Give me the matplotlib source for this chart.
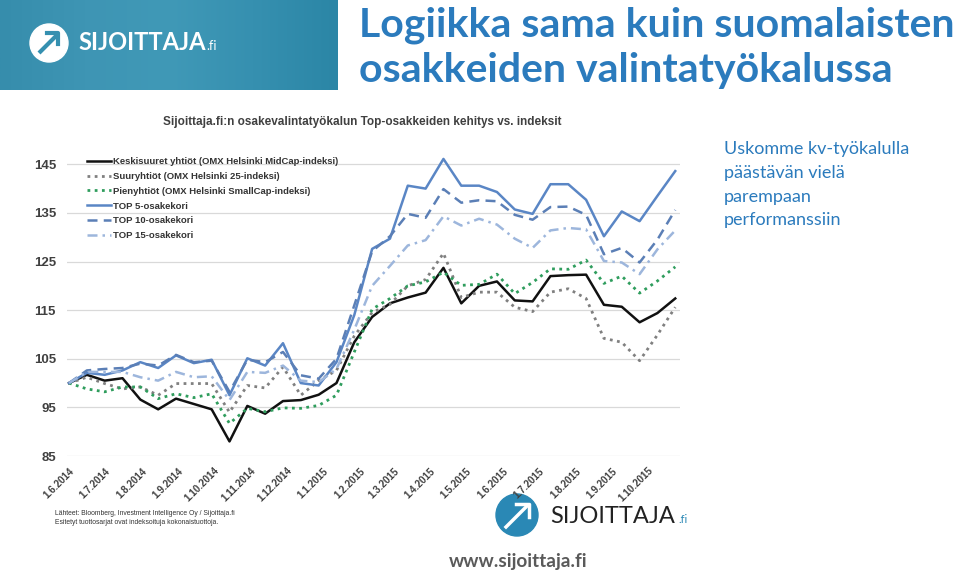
import numpy as np
import pandas as pd
import matplotlib.pyplot as plt
from matplotlib.patches import Circle
from matplotlib.colors import LinearSegmentedColormap

# biweekly observations, indexed to 100 on 1.6.2014
dates = pd.date_range('2014-06-01', periods=35, freq='15D')

midcap = [100.0, 101.7, 100.5, 101.0, 96.6, 94.6, 96.8, 95.7, 94.6, 88.0,
          95.3, 93.7, 96.3, 96.5, 97.6, 100.0, 108.4, 113.6, 116.4, 117.6,
          118.6, 123.7, 116.4, 120.0, 120.9, 117.0, 116.8, 122.0, 122.2, 122.3,
          116.1, 115.7, 112.5, 114.4, 117.4]
omx25 = [100.0, 101.2, 99.9, 98.8, 99.2, 97.5, 99.9, 99.9, 99.9, 94.0,
         99.5, 99.0, 103.3, 97.5, 100.5, 102.6, 109.7, 114.5, 116.2, 120.0,
         121.3, 126.7, 117.6, 118.7, 118.7, 115.6, 114.7, 118.7, 119.4, 117.4,
         109.2, 108.4, 104.6, 109.9, 115.6]
smallcap = [100.0, 98.8, 98.2, 99.2, 99.2, 96.8, 97.8, 97.0, 97.8, 91.7,
            94.8, 94.1, 94.9, 94.8, 95.4, 97.5, 106.4, 115.2, 117.4, 120.0,
            120.8, 122.8, 120.1, 120.3, 122.4, 118.4, 120.7, 123.5, 123.4, 125.3,
            120.5, 122.0, 118.5, 121.0, 123.9]
top5 = [100.0, 102.1, 101.7, 102.6, 104.3, 103.1, 105.7, 104.1, 104.8, 97.5,
        105.1, 103.6, 108.2, 100.0, 99.5, 104.3, 114.0, 127.6, 129.7, 140.6,
        140.0, 146.1, 140.6, 140.6, 139.3, 135.7, 134.8, 140.9, 140.9, 137.7,
        130.2, 135.3, 133.3, 138.5, 143.6]
top10 = [100.0, 102.6, 102.9, 103.1, 104.0, 103.6, 105.8, 104.3, 104.6, 98.2,
         104.8, 104.3, 106.4, 101.6, 100.9, 105.0, 116.0, 127.1, 130.2, 134.8,
         134.0, 139.9, 137.1, 137.6, 137.4, 134.6, 133.6, 136.2, 136.3, 134.6,
         126.5, 127.8, 124.8, 129.5, 135.6]
top15 = [100.0, 102.3, 102.3, 102.3, 101.2, 100.5, 102.3, 101.2, 101.4, 96.5,
         102.3, 102.1, 103.6, 100.5, 100.2, 102.9, 111.0, 120.0, 124.1, 128.3,
         129.4, 134.3, 132.4, 133.8, 132.6, 129.7, 127.8, 131.4, 131.9, 131.6,
         125.1, 124.8, 122.4, 127.5, 131.4]

series_labels = ['Keskisuuret yhtiöt (OMX Helsinki MidCap-indeksi)',
                 'Suuryhtiöt (OMX Helsinki 25-indeksi)',
                 'Pienyhtiöt (OMX Helsinki SmallCap-indeksi)',
                 'TOP 5-osakekori', 'TOP 10-osakekori', 'TOP 15-osakekori']

tick_dates = pd.date_range('2014-06-01', '2015-10-01', freq='MS')
tick_labels = ['1.6.2014', '1.7.2014', '1.8.2014', '1.9.2014', '1.10.2014',
               '1.11.2014', '1.12.2014', '1.1.2015', '1.2.2015', '1.3.2015',
               '1.4.2015', '1.5.2015', '1.6.2015', '1.7.2015', '1.8.2015',
               '1.9.2015', '1.10.2015']
y_ticks = [85, 95, 105, 115, 125, 135, 145]

W, H = 960, 574
CHART_FONT = 'Liberation Sans'
fig = plt.figure(figsize=(9.6, 5.74), dpi=100)

# decoration layer in pixel coordinates
deco = fig.add_axes([0, 0, 1, 1])
deco.set_xlim(0, W)
deco.set_ylim(H, 0)
deco.axis('off')

# teal banner with logo (top-left)
teal = LinearSegmentedColormap.from_list('teal', ['#368dac', '#3e95b4', '#4099b7',
                                                   '#3690b0', '#2b86a6'])
grad = np.linspace(0, 1, 256).reshape(1, -1)
deco.imshow(grad, cmap=teal, extent=[0, 338, 90, 0], aspect='auto', zorder=1)
deco.add_patch(Circle((49, 43), 19, color='white', zorder=2))
deco.plot([39, 57], [53, 35], color='#3590b0', lw=3, solid_capstyle='butt', zorder=3)
deco.plot([47, 58, 58], [33, 33, 44], color='#3590b0', lw=3, zorder=3)
deco.text(78, 50, 'SIJOITTAJA', color='white', fontsize=17, fontweight='bold',
          family='Lato', va='baseline', ha='left', zorder=3)
deco.text(206, 50, '.fi', color='white', fontsize=9, family='Lato',
          va='baseline', ha='left', zorder=3)

# bottom logo
deco.add_patch(Circle((517, 515), 21, color='#2a88b5', zorder=2))
deco.plot([506, 527], [527, 506], color='white', lw=2.5, zorder=3)
deco.plot([516, 529, 529], [504, 504, 517], color='white', lw=2.5, zorder=3)
deco.text(550, 523, 'SIJOITTAJA', color='#222222', fontsize=17, family='Lato',
          va='baseline', ha='left', zorder=3)
deco.text(678, 523, '.fi', color='#2a88b5', fontsize=8, family='Lato',
          va='baseline', ha='left', zorder=3)

# slide texts
title_kw = dict(color='#2b7bbd', fontsize=29.5, fontweight='bold', family='Lato')
deco.text(359, 36, 'Logiikka sama kuin suomalaisten', va='baseline', **title_kw)
deco.text(359, 82, 'osakkeiden valintatyökalussa', va='baseline', **title_kw)
deco.text(724, 141, 'Uskomme kv-työkalulla\npäästävän vielä\nparempaan\nperformanssiin',
          color='#2b7bbd', fontsize=13, family='Lato', va='top', ha='left',
          linespacing=1.6)
deco.text(518, 562, 'www.sijoittaja.fi', color='#5a5a5a', fontsize=13.7,
          fontweight='bold', family='Lato', ha='center', va='center')
deco.text(362, 122, 'Sijoittaja.fi:n osakevalintatyökalun Top-osakkeiden kehitys vs. indeksit',
          color='#404040', fontsize=8.5, fontweight='bold', family=CHART_FONT,
          ha='center', va='center')
deco.text(55, 518, 'Lähteet: Bloomberg, Investment Intelligence Oy / Sijoittaja.fi\n'
          'Esitetyt tuottosarjat ovat indeksoituja kokonaistuottoja.',
          color='#333333', fontsize=4.9, family=CHART_FONT, ha='left', va='center',
          linespacing=1.3)

# chart
ax = fig.add_axes([67 / W, 1 - 456 / H, 613 / W, (456 - 149.7) / H])
ax.set_facecolor('none')

ax.plot(dates, midcap, color='#111111', lw=1.8, label=series_labels[0])
ax.plot(dates, omx25, color='#808080', lw=2, linestyle=(0, (1, 1.6)), label=series_labels[1])
ax.plot(dates, smallcap, color='#2f9d5d', lw=2, linestyle=(0, (1, 1.6)), label=series_labels[2])
ax.plot(dates, top5, color='#5a86c5', lw=1.8, label=series_labels[3])
ax.plot(dates, top10, color='#5b7fb6', lw=1.8, linestyle=(0, (4, 2.5)), label=series_labels[4])
ax.plot(dates, top15, color='#9db6dc', lw=1.8, linestyle=(0, (4, 2, 1, 2)), label=series_labels[5])

ax.set_xlim(dates[0] - pd.Timedelta(days=1.7), dates[0] + pd.Timedelta(days=514))
ax.set_ylim(85, 148)
ax.set_yticks(y_ticks)
ax.set_xticks(tick_dates)
ax.set_xticklabels(tick_labels, rotation=45, ha='right', rotation_mode='anchor',
                   fontsize=7.1, fontweight='bold', color='#404040', family=CHART_FONT)
for lab in ax.get_yticklabels():
    lab.set_fontsize(9.5)
    lab.set_fontweight('bold')
    lab.set_color('#404040')
    lab.set_family(CHART_FONT)
ax.tick_params(length=0)
ax.tick_params(axis='y', pad=8)
ax.tick_params(axis='x', pad=7)
ax.yaxis.grid(True, color='#d9d9d9', lw=0.9)
ax.set_axisbelow(True)
for s in ax.spines.values():
    s.set_visible(False)

ax.legend(loc='upper left', bbox_to_anchor=(87 / W, 1 - 157 / H),
          bbox_transform=fig.transFigure, frameon=False,
          prop={'family': CHART_FONT, 'weight': 'bold', 'size': 6.8},
          handlelength=2.5, handletextpad=0.3, labelspacing=0.62,
          borderpad=0, borderaxespad=0, labelcolor='#333333')

fig.savefig('out.png', dpi=100)
